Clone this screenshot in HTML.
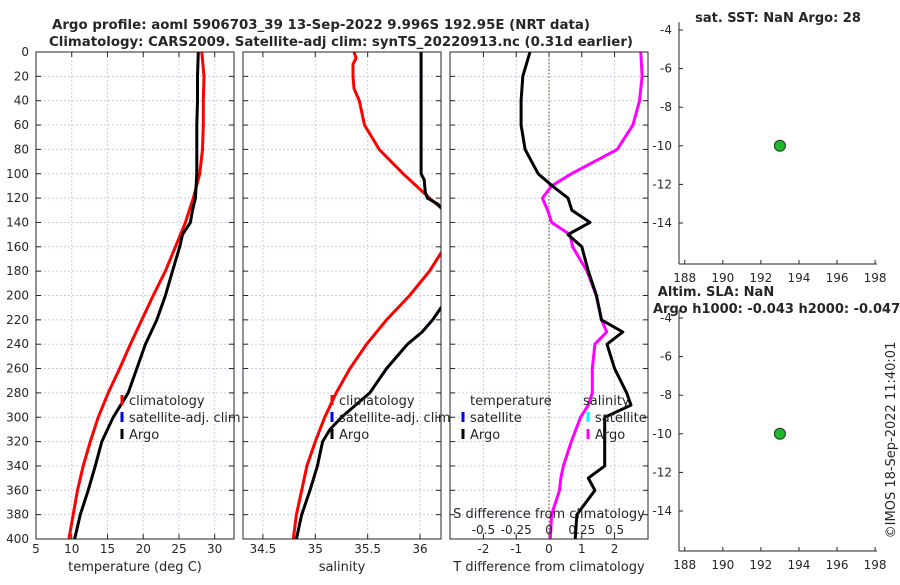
<!DOCTYPE html>
<html><head><meta charset="utf-8"><style>
body{margin:0;background:#fff;}
svg text{font-family:"DejaVu Sans","Liberation Sans",sans-serif;fill:#262626;}
</style></head><body>
<svg id="chart" width="900" height="580" xmlns="http://www.w3.org/2000/svg">
<g id="g"></g>
</svg>
<script>
const depths=[0,20,40,60,80,100,120,140,160,180,200,220,240,260,280,300,320,340,360,380,400];
const tempClim=[28.2,28.5,28.4,28.4,28.3,27.9,27.0,25.9,24.5,23.1,21.4,19.8,18.2,16.7,15.1,13.7,12.6,11.6,10.8,10.2,9.6];
const tempArgoDepth=[0,20,40,60,80,100,110,120,130,140,150,160,180,200,220,240,260,280,300,320,340,360,380,400];
const tempArgo=[27.7,27.6,27.6,27.5,27.5,27.5,27.4,27.3,26.9,26.6,25.5,25.1,24.1,23.1,21.9,20.3,19.1,17.9,15.8,14.2,13.3,12.3,11.2,10.4];
const salClimDepth=[0,5,10,20,30,40,60,80,100,120,128,140,150,165,180,200,220,240,260,280,300,320,340,360,380,400];
const salClim=[35.37,35.39,35.36,35.36,35.37,35.42,35.47,35.61,35.84,36.09,36.2,36.35,36.35,36.2,36.09,35.90,35.68,35.49,35.33,35.20,35.09,35.0,34.92,34.87,34.82,34.79];
const salArgoDepth=[0,20,40,60,80,100,105,115,120,125,130,140,170,200,210,220,230,240,250,260,280,300,310,320,340,360,380,400];
const salArgo=[36.01,36.01,36.01,36.01,36.01,36.01,36.04,36.05,36.07,36.17,36.22,36.35,36.35,36.3,36.2,36.12,36.02,35.88,35.78,35.68,35.52,35.25,35.14,35.07,35.02,34.95,34.87,34.82];
const diffDepth=[0,20,40,60,80,100,110,120,130,140,150,160,180,200,220,230,240,260,280,290,300,320,340,350,360,380,400];
const tDiff=[-0.58,-0.8,-0.85,-0.85,-0.73,-0.33,0.1,0.58,0.7,1.25,0.58,1.0,1.2,1.45,1.6,2.25,1.77,2.0,2.37,2.5,1.7,1.7,1.7,1.2,1.4,0.85,0.8];
const sDiff=[0.70,0.71,0.69,0.64,0.52,0.17,0.02,-0.05,-0.01,0.02,0.16,0.18,0.29,0.36,0.40,0.44,0.35,0.33,0.33,0.30,0.24,0.17,0.11,0.09,0.08,0.02,0.01];
const tempTicks=[5,10,15,20,25,30];
const salTicks=[34.5,35,35.5,36];
const tdTicks=[-2,-1,0,1,2];
const sdTicks=[-0.5,-0.25,0,0.25,0.5];
const depthTicks=[0,20,40,60,80,100,120,140,160,180,200,220,240,260,280,300,320,340,360,380,400];
const lonTicks=[188,190,192,194,196,198];
const latTicks=[-4,-6,-8,-10,-12,-14];
const profLon=[193];
const profLat=[-10];

const NS="http://www.w3.org/2000/svg";
const G=document.getElementById('g');
function mk(tag,attrs,parent){const e=document.createElementNS(NS,tag);for(const k in attrs)e.setAttribute(k,attrs[k]);(parent||G).appendChild(e);return e;}
function txt(s,x,y,anchor,size,weight,parent){const t=mk('text',{x:x,y:y,'text-anchor':anchor||'middle','font-size':size||12,'font-weight':weight||'normal'},parent);t.textContent=s;return t;}

const PY0=52,PY1=539;
function yD(d){return PY0+(d/400)*(PY1-PY0);}
const panels=[
 {name:'temperature',x0:36,x1:234,min:5,max:32.7,ticks:tempTicks,label:'temperature (deg C)'},
 {name:'salinity',x0:243,x1:441,min:34.31,max:36.2,ticks:salTicks,label:'salinity'},
 {name:'difference',x0:450,x1:648,min:-3.02,max:3.02,ticks:tdTicks,label:'T difference from climatology'}
];
function xf(p){return v=>p.x0+(v-p.min)/(p.max-p.min)*(p.x1-p.x0);}

panels.forEach((p,i)=>{
 const g=mk('g',{});
 
 
 const X=xf(p);
 const cp=mk('clipPath',{id:'clip'+i},g);mk('rect',{x:p.x0,y:PY0,width:p.x1-p.x0,height:PY1-PY0},cp);
 depthTicks.forEach(d=>{if(d>0&&d<400){const l=mk('line',{x1:p.x0,x2:p.x1,y1:yD(d),y2:yD(d),stroke:'#c8cce6','stroke-dasharray':'2,2','stroke-width':1},g);}
  mk('line',{x1:p.x0,x2:p.x0+5,y1:yD(d),y2:yD(d),stroke:'#262626'},g);mk('line',{x1:p.x1-5,x2:p.x1,y1:yD(d),y2:yD(d),stroke:'#262626'},g);});
 p.ticks.forEach(v=>{const x=X(v);if(x>p.x0+1){const l=mk('line',{x1:x,x2:x,y1:PY0,y2:PY1,stroke:'#c8cce6','stroke-dasharray':'2,2'},g);}
  mk('line',{x1:x,x2:x,y1:PY1,y2:PY1-5,stroke:'#262626'},g);mk('line',{x1:x,x2:x,y1:PY0,y2:PY0+5,stroke:'#262626'},g);
  const t=txt(String(v),x,553,'middle',12,'normal',g);});
 const xl=txt(p.label,(p.x0+p.x1)/2,571,'middle',13,'normal',g);
 
 
 const cg=mk('g',{'clip-path':'url(#clip'+i+')'},g);
 function line(vals,ds,color,nm,fx){const pts=vals.map((v,k)=>fx(v).toFixed(1)+','+yD(ds[k]).toFixed(1)).join(' ');
  const pl=mk('polyline',{points:pts,fill:'none',stroke:color,'stroke-width':3,'stroke-linejoin':'round'},cg);
  
  }
 if(i===0){line(tempClim,depths,'#f00','temperature-climatology-line',X);line(tempArgo,tempArgoDepth,'#000','temperature-argo-line',X);}
 if(i===1){line(salClim,salClimDepth,'#f00','salinity-climatology-line',X);line(salArgo,salArgoDepth,'#000','salinity-argo-line',X);}
 if(i===2){
  const z=mk('line',{x1:X(0),x2:X(0),y1:PY0,y2:PY1,stroke:'#6b6b3a','stroke-dasharray':'1.5,2','stroke-width':1.2},cg);
  
  const SX=v=>X(v*4);
  line(sDiff,diffDepth,'#f0f','salinity-difference-line',SX);
  line(tDiff,diffDepth,'#000','temperature-difference-line',X);
  const st=txt('S difference from climatology',549,518,'middle',13,'normal',g);
  
  sdTicks.forEach(v=>{const t=txt(String(v),SX(v),534,'middle',12,'normal',g);
   });
 }
 mk('rect',{x:p.x0,y:PY0,width:p.x1-p.x0,height:PY1-PY0,fill:'none',stroke:'#262626','stroke-width':1},g);
});
depthTicks.forEach(d=>{const t=txt(String(d),29,yD(d)+4,'end',12);});

function legItem(x,y,color,label,nm){const g=mk('g',{});
 mk('rect',{x:x-1.5,y:y-10,width:3,height:10,fill:color},g);if(label)txt(label,x+7,y,'start',13,'normal',g);}
[[122,'p1'],[332,'p2']].forEach(([lx,k])=>{
 legItem(lx,405,'#f00','climatology','legend-climatology-'+k);
 legItem(lx,422,'#00f','satellite-adj. clim','legend-satellite-'+k);
 legItem(lx,439,'#000','Argo','legend-argo-'+k);
});
const lt=txt('temperature',470,405,'start',13);
legItem(463,422,'#00f','satellite','legend-temp-satellite');
legItem(463,439,'#000','Argo','legend-temp-argo');
const ls=txt('salinity',583,405,'start',13);
legItem(588,422,'#0ff','satellite','legend-sal-satellite');
legItem(588,439,'#f0f','Argo','legend-sal-argo');

const t1=txt('Argo profile: aoml 5906703_39 13-Sep-2022 9.996S 192.95E (NRT data)',52,29,'start',13,'bold');
t1.setAttribute('textLength','538');t1.setAttribute('lengthAdjust','spacingAndGlyphs');

const t2=txt('Climatology: CARS2009. Satellite-adj clim: synTS_20220913.nc (0.31d earlier)',49,46,'start',13,'bold');
t2.setAttribute('textLength','584');t2.setAttribute('lengthAdjust','spacingAndGlyphs');


const MX0=679,MX1=877,LMIN=187.7,LMAX=198.1;
function mx(v){return MX0+(v-LMIN)/(LMAX-LMIN)*(MX1-MX0);}
[[30,264,'sst-map-panel'],[318,551,'sla-map-panel']].forEach(([top4,bot,nm])=>{
 const g=mk('g',{});
 const s=38.6/2;
 const my=v=>top4+(-4-v)*s;
 mk('line',{x1:MX0,x2:MX0,y1:my(-3.6),y2:bot,stroke:'#262626'},g);
 mk('line',{x1:MX0,x2:MX1,y1:bot,y2:bot,stroke:'#262626'},g);
 latTicks.forEach(v=>{mk('line',{x1:MX0,x2:MX0+4,y1:my(v),y2:my(v),stroke:'#262626'},g);
  const t=txt(String(v),672,my(v)+4,'end',12,'normal',g);});
 lonTicks.forEach(v=>{mk('line',{x1:mx(v),x2:mx(v),y1:bot,y2:bot-4,stroke:'#262626'},g);
  const t=txt(String(v),mx(v),bot+18,'middle',12,'normal',g);});
 profLon.forEach((lo,k)=>{const c=mk('circle',{cx:mx(lo),cy:my(profLat[k]),r:5.5,fill:'#1ab82a',stroke:'#1a3a1a','stroke-width':1},g);
  });
});
const m1=txt('sat. SST: NaN Argo: 28',778,22,'middle',13,'bold');
const m2=txt('Altim. SLA: NaN',716,296,'middle',13,'bold');
const m3=txt('Argo h1000: -0.043 h2000: -0.047',653,313,'start',13,'bold');
const cr=txt('©IMOS 18-Sep-2022 11:40:01',0,0,'middle',13);
cr.setAttribute('transform','translate(895,440) rotate(-90)');

</script>
</body></html>
